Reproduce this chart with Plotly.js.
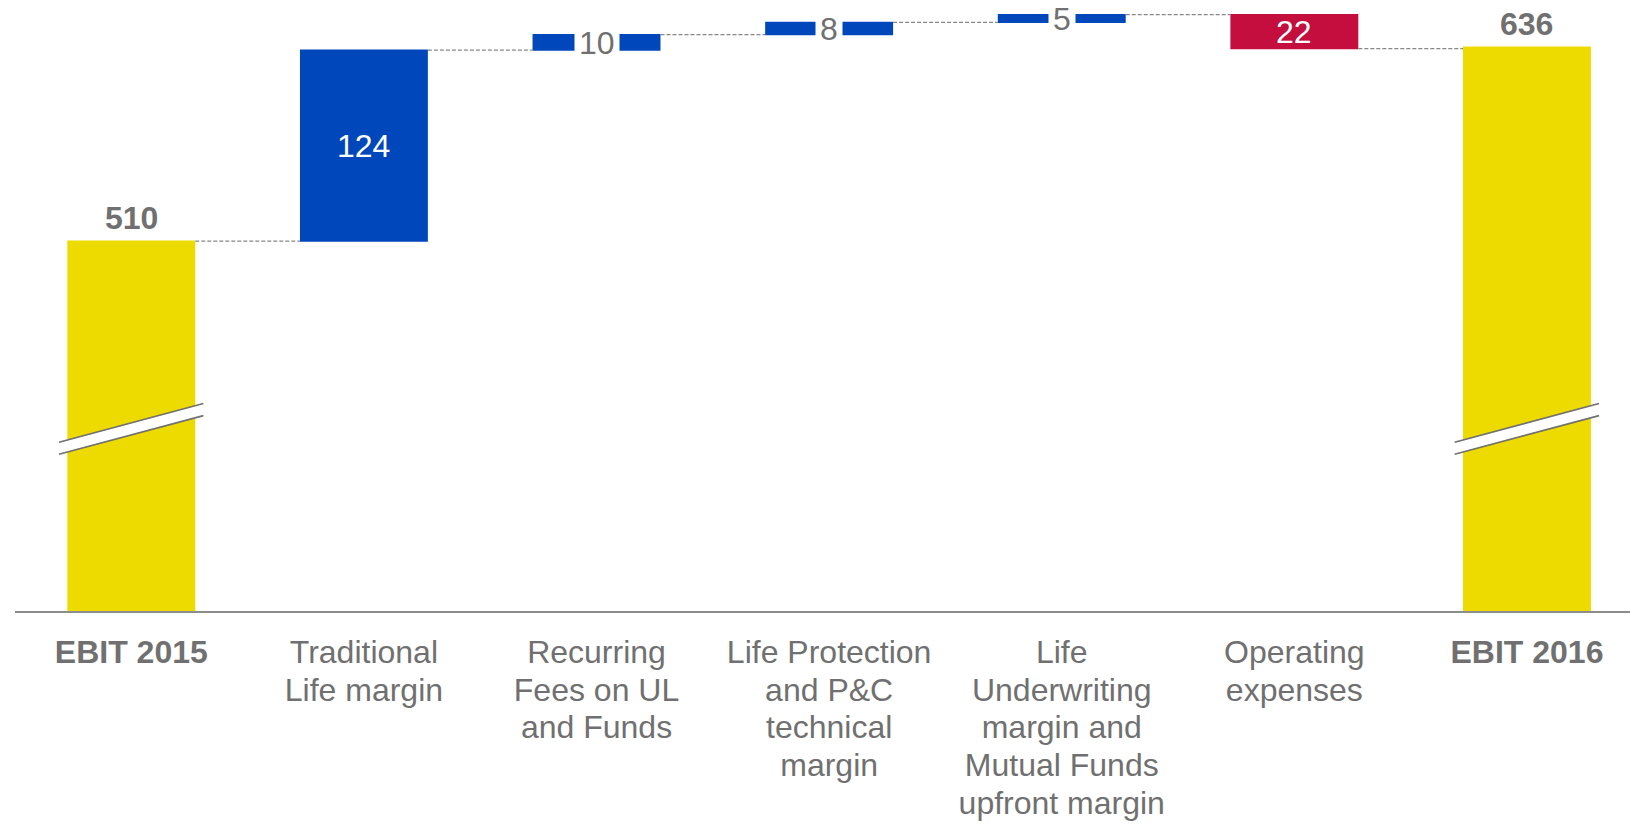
<!DOCTYPE html>
<html>
<head>
<meta charset="utf-8">
<script src="https://cdn.plot.ly/plotly-3.0.1.min.js"></script>
<style>html,body{margin:0;padding:0;background:#fff;}#chart{width:1630px;height:824px;}</style>
</head>
<body>
<div id="chart"></div>
<script>
// ---- data ----
var categories = ['EBIT 2015', 'Traditional Life margin', 'Recurring Fees on UL and Funds',
  'Life Protection and P&C technical margin',
  'Life Underwriting margin and Mutual Funds upfront margin', 'Operating expenses', 'EBIT 2016'];
var tickLines = [
  ['EBIT 2015'],
  ['Traditional', 'Life margin'],
  ['Recurring', 'Fees on UL', 'and Funds'],
  ['Life Protection', 'and P&amp;C', 'technical', 'margin'],
  ['Life', 'Underwriting', 'margin and', 'Mutual Funds', 'upfront margin'],
  ['Operating', 'expenses'],
  ['EBIT 2016']
];
var measures = ['absolute', 'relative', 'relative', 'relative', 'relative', 'relative', 'absolute'];
var values = [510, 124, 10, 8, 5, -22, 636];
var valueLabels = ['510', '124', '10', '8', '5', '22', '636'];

// ---- styling ----
var FONT = '"Liberation Sans", Arial, sans-serif';
var GREY = '#707070';
var YELLOW = '#EDDB00', BLUE = '#0047BB', RED = '#C30E3E';
var yRange = [270, 660];
var xRange = [-0.5, 6.443];

var ticktext = tickLines.map(function (lines, i) {
  return lines.map(function (l) {
    var s = '<span style="font-size:32px">' + l + '</span>';
    return measures[i] === 'absolute' ? '<b>' + s + '</b>' : s;
  }).join('<br>');
});

// running totals for label placement
var annotations = [];
var level = 0;
for (var i = 0; i < values.length; i++) {
  var start, end;
  if (measures[i] === 'absolute') { start = 0; end = values[i]; }
  else { start = level; end = level + values[i]; }
  level = end;
  if (measures[i] === 'absolute') {
    annotations.push({
      x: categories[i], y: end, xref: 'x', yref: 'y', yanchor: 'bottom',
      text: '<b>' + valueLabels[i] + '</b>', showarrow: false,
      font: {family: FONT, size: 32, color: GREY}, yshift: 3
    });
  } else {
    var mid = (start + end) / 2;
    var big = Math.abs(values[i]) >= 20;
    annotations.push({
      x: categories[i], y: mid, xref: 'x', yref: 'y', yanchor: 'middle',
      text: valueLabels[i], showarrow: false,
      font: {family: FONT, size: 32, color: big ? '#FFFFFF' : GREY},
      bgcolor: big ? 'rgba(0,0,0,0)' : '#FFFFFF', borderpad: big ? 1 : 4,
      yshift: big ? 0 : -1
    });
  }
}

// axis-break marks on the two total bars
var shapes = [];
var span = xRange[1] - xRange[0];
function px(xv) { return (xv - xRange[0]) / span; }
measures.forEach(function (m, i) {
  if (m !== 'absolute') return;
  var x0 = px(i - 0.311), x1 = px(i + 0.31);
  shapes.push({type: 'line', xref: 'paper', yref: 'paper', x0: x0, x1: x1, y0: 0.2709, y1: 0.3351,
    line: {color: '#FFFFFF', width: 11}, layer: 'above'});
  shapes.push({type: 'line', xref: 'paper', yref: 'paper', x0: x0, x1: x1, y0: 0.2809, y1: 0.3451,
    line: {color: GREY, width: 1.6}, layer: 'above'});
  shapes.push({type: 'line', xref: 'paper', yref: 'paper', x0: x0, x1: x1, y0: 0.2609, y1: 0.3251,
    line: {color: GREY, width: 1.6}, layer: 'above'});
});

var trace = {
  type: 'waterfall',
  x: categories,
  y: values,
  measure: measures,
  textinfo: 'none',
  hoverinfo: 'skip',
  increasing: {marker: {color: BLUE}},
  decreasing: {marker: {color: RED}},
  totals: {marker: {color: YELLOW}},
  connector: {mode: 'between', line: {color: '#888888', width: 1.2, dash: '4px,2px'}},
  width: 0.55
};

var layout = {
  width: 1630, height: 824,
  margin: {l: 15, r: 0, t: 10, b: 213, pad: 0},
  paper_bgcolor: '#FFFFFF', plot_bgcolor: '#FFFFFF',
  showlegend: false,
  font: {family: FONT, color: GREY},
  xaxis: {
    type: 'category', range: xRange, tickvals: categories, ticktext: ticktext,
    tickfont: {family: FONT, size: 29, color: GREY},
    ticks: 'outside', ticklen: 15, tickcolor: 'rgba(0,0,0,0)',
    showline: true, linecolor: '#8C8C8C', linewidth: 2,
    showgrid: false, zeroline: false, fixedrange: true
  },
  yaxis: {range: yRange, visible: false, showgrid: false, zeroline: false, fixedrange: true},
  annotations: annotations,
  shapes: shapes
};

Plotly.newPlot('chart', [trace], layout, {displayModeBar: false, staticPlot: true});
</script>
</body>
</html>
